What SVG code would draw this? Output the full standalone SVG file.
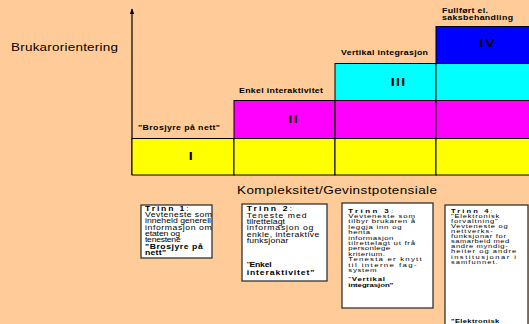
<svg xmlns="http://www.w3.org/2000/svg" width="529" height="324" viewBox="0 0 529 324">
<defs>
<marker id="arr" viewBox="0 0 10 10" refX="9" refY="5" markerWidth="5" markerHeight="5" orient="auto"><path d="M0,1 L10,5 L0,9 Z" fill="#000"/></marker>
</defs>
<style>
text{font-family:"Liberation Sans",Arial,sans-serif;fill:#000}
.ax{font-size:10px}
.lv{font-size:6.5px;font-weight:bold}
.num{font-size:10.5px;font-weight:bold;text-anchor:middle}
.cell{stroke:#000;stroke-width:1}
.box{fill:#fff;stroke:#333;stroke-width:1.3}
.b1{font-size:6.4px}
.b3{font-size:5.8px}
.b4{font-size:5.6px}
.bd{font-weight:bold}
</style>
<rect width="529" height="324" fill="#FFCC99"/>

<g id="connectors">
<line x1="132" y1="175" x2="132" y2="9" stroke="#000" stroke-width="1.2" marker-end="url(#arr)"/>
</g>

<g id="level-1">
<rect class="cell" x="132" y="138.5" width="102" height="36.5" fill="#FFFF00"/>
<rect class="cell" x="234" y="138.5" width="101" height="36.5" fill="#FFFF00"/>
<rect class="cell" x="335" y="138.5" width="101" height="36.5" fill="#FFFF00"/>
<rect class="cell" x="436" y="138.5" width="94" height="36.5" fill="#FFFF00"/>
</g>
<g id="level-2">
<rect class="cell" x="234" y="100.5" width="101" height="38" fill="#FF00FF"/>
<rect class="cell" x="335" y="100.5" width="101" height="38" fill="#FF00FF"/>
<rect class="cell" x="436" y="100.5" width="94" height="38" fill="#FF00FF"/>
</g>
<g id="level-3">
<rect class="cell" x="335" y="63.5" width="101" height="37" fill="#00FFFF"/>
<rect class="cell" x="436" y="63.5" width="94" height="37" fill="#00FFFF"/>
</g>
<g id="level-4">
<rect class="cell" x="436" y="26.5" width="94" height="37" fill="#0000FF"/>
</g>

<g id="step-boxes">
<rect class="box" x="141" y="205" width="71" height="53"/>
<rect class="box" x="242" y="204" width="85" height="77"/>
<rect class="box" x="342" y="203" width="91" height="105"/>
<rect class="box" x="445" y="205" width="83" height="125"/>
</g>

<g id="labels" transform="scale(1.35,1)">
<g id="axis-labels">
<text class="ax" x="8.15" y="51.5" textLength="79.26" lengthAdjust="spacing">Brukarorientering</text>
<text class="ax" x="175.56" y="194.5" textLength="148.15" lengthAdjust="spacing">Kompleksitet/Gevinstpotensiale</text>
</g>
<g id="level-labels">
<text class="num" x="141.26" y="160">I</text>
<text class="num" x="217.04" y="123" textLength="6.89" lengthAdjust="spacing">II</text>
<text class="num" x="294.81" y="86" textLength="10.59" lengthAdjust="spacing">III</text>
<text class="num" x="360.74" y="47" textLength="11.63" lengthAdjust="spacing">IV</text>
<text class="lv" x="102.22" y="130" textLength="60.74" lengthAdjust="spacing">"Brosjyre på nett"</text>
<text class="lv" x="177.04" y="93" textLength="62.22" lengthAdjust="spacing">Enkel interaktivitet</text>
<text class="lv" x="252.59" y="55" textLength="64.44" lengthAdjust="spacing">Vertikal integrasjon</text>
<text class="lv" x="327.41" y="13" textLength="34.07" lengthAdjust="spacing">Fullført el.</text>
<text class="lv" x="327.41" y="20.5" textLength="52.59" lengthAdjust="spacing">saksbehandling</text>
</g>

<g id="step-1" class="b1">
<text x="107.41" y="210.8" textLength="32.37" lengthAdjust="spacing"><tspan class="bd">Trinn 1</tspan>:</text>
<text x="107.41" y="217.1" textLength="49.63" lengthAdjust="spacing">Vevteneste som</text>
<text x="107.41" y="223.4" textLength="48.89" lengthAdjust="spacing">inneheld generell</text>
<text x="107.41" y="229.7" textLength="49.41" lengthAdjust="spacing">informasjon om</text>
<text x="107.41" y="236" textLength="25.93" lengthAdjust="spacing">etaten og</text>
<text x="107.41" y="242.3" textLength="26.44" lengthAdjust="spacing">tenestene</text>
<text class="bd" x="107.41" y="248.6" textLength="42.74" lengthAdjust="spacing">"Brosjyre på</text>
<text class="bd" x="107.41" y="254.9" textLength="15.56" lengthAdjust="spacing">nett"</text>
</g>

<g id="step-2" class="b1">
<text x="182.74" y="211.5" textLength="33.56" lengthAdjust="spacing"><tspan class="bd">Trinn 2</tspan>:</text>
<text x="182.74" y="217.8" textLength="44.44" lengthAdjust="spacing">Teneste med</text>
<text x="182.74" y="224.1" textLength="28.37" lengthAdjust="spacing">tilrettelagt</text>
<text x="182.74" y="230.4" textLength="49.41" lengthAdjust="spacing">informasjon og</text>
<text x="182.74" y="236.7" textLength="53.85" lengthAdjust="spacing">enkle, interaktive</text>
<text x="182.74" y="243" textLength="30.89" lengthAdjust="spacing">funksjonar</text>
<text x="182.74" y="267.5" textLength="18.52" lengthAdjust="spacing">"<tspan class="bd">Enkel</tspan></text>
<text class="bd" x="182.74" y="275.5" textLength="50.15" lengthAdjust="spacing">interaktivitet"</text>
</g>

<g id="step-3" class="b3">
<text x="258" y="212.7" textLength="33.33" lengthAdjust="spacing"><tspan class="bd">Trinn 3</tspan>:</text>
<text x="258" y="218.1" textLength="49.41" lengthAdjust="spacing">Vevteneste som</text>
<text x="258" y="223.5" textLength="49.41" lengthAdjust="spacing">tilbyr brukaren å</text>
<text x="258" y="228.9" textLength="39.48" lengthAdjust="spacing">leggja inn og</text>
<text x="258" y="234.3" textLength="16.07" lengthAdjust="spacing">henta</text>
<text x="258" y="239.7" textLength="33.33" lengthAdjust="spacing">informasjon</text>
<text x="258" y="245.1" textLength="49.41" lengthAdjust="spacing">tilrettelagt ut frå</text>
<text x="258" y="250.5" textLength="30.89" lengthAdjust="spacing">personlege</text>
<text x="258" y="255.9" textLength="27.19" lengthAdjust="spacing">kriterium.</text>
<text x="258" y="261.3" textLength="54.3" lengthAdjust="spacing">Tenesta er knytt</text>
<text x="258" y="266.7" textLength="50.59" lengthAdjust="spacing">til interne fag-</text>
<text x="258" y="272.1" textLength="20.96" lengthAdjust="spacing">system</text>
<text x="258" y="281.5" textLength="27.19" lengthAdjust="spacing">"<tspan class="bd">Vertikal</tspan></text>
<text class="bd" x="258" y="287.5" textLength="33.33" lengthAdjust="spacing">integrasjon"</text>
</g>

<g id="step-4" class="b4">
<text x="334.07" y="212.7" textLength="30.89" lengthAdjust="spacing"><tspan class="bd">Trinn 4</tspan>:</text>
<text x="334.07" y="217.8" textLength="35.78" lengthAdjust="spacing">"Elektronisk</text>
<text x="334.07" y="222.9" textLength="34.59" lengthAdjust="spacing">forvaltning"</text>
<text x="334.07" y="228" textLength="42" lengthAdjust="spacing">Vevteneste og</text>
<text x="334.07" y="233.1" textLength="30.89" lengthAdjust="spacing">nettverks-</text>
<text x="334.07" y="238.2" textLength="40.74" lengthAdjust="spacing">funksjonar for</text>
<text x="334.07" y="243.3" textLength="43.19" lengthAdjust="spacing">samarbeid med</text>
<text x="334.07" y="248.4" textLength="42" lengthAdjust="spacing">andre myndig-</text>
<text x="334.07" y="253.5" textLength="48.37" lengthAdjust="spacing">heiter og andre</text>
<text x="334.07" y="258.6" textLength="48.15" lengthAdjust="spacing">institusjonar i</text>
<text x="334.07" y="263.7" textLength="34.59" lengthAdjust="spacing">samfunnet.</text>
<text class="bd" x="334.07" y="323.5" textLength="35.78" lengthAdjust="spacing">"Elektronisk</text>
</g>
</g>
</svg>
